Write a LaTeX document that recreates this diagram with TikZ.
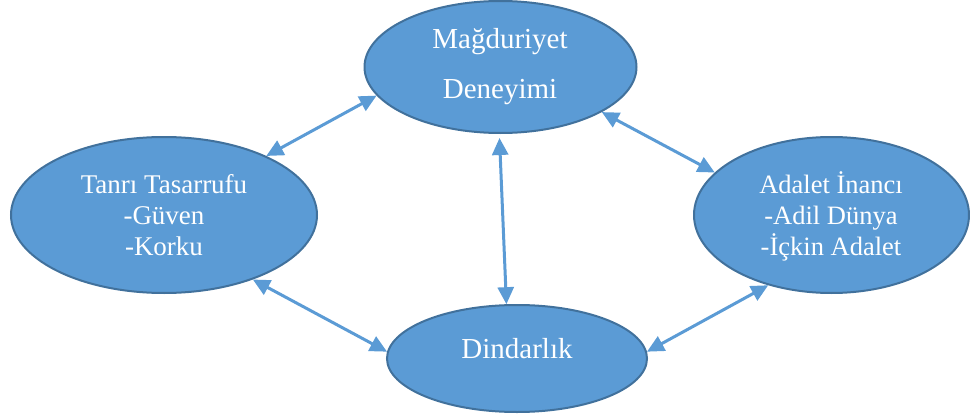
\documentclass[tikz,border=0pt]{standalone}
\usepackage{fontspec}
\setmainfont{Liberation Serif}
\usetikzlibrary{shapes.geometric,arrows.meta}
\definecolor{efill}{HTML}{5B9BD5}
\definecolor{edraw}{HTML}{41719C}
\definecolor{arr}{HTML}{5B9BD5}
\begin{document}
\begin{tikzpicture}[x=1pt,y=-1pt,
  ell/.style={ellipse,draw=edraw,fill=efill,line width=2pt,inner sep=0pt},
  txt/.style={text=white,align=center,inner sep=0pt,anchor=base},
  biarrow/.style={draw=arr,line width=3pt,{Triangle[length=17pt,width=16pt]}-{Triangle[length=17pt,width=16pt]}}]
\useasboundingbox (0,0) rectangle (970,420);
\node[ell,minimum width=272pt,minimum height=132pt] (T) at (500.5,67) {};
\node[ell,minimum width=306pt,minimum height=156pt] (L) at (164,215) {};
\node[ell,minimum width=275pt,minimum height=156pt] (R) at (831.5,215) {};
\node[ell,minimum width=260pt,minimum height=107pt] (B) at (517,358.5) {};
\node[txt,font=\fontsize{29}{51}\selectfont] (Tt) at (500,99) {Mağduriyet\\Deneyimi};
\node[txt,font=\fontsize{27}{31}\selectfont] (Lt) at (164,255) {Tanrı Tasarrufu\\-Güven\\-Korku};
\node[txt,font=\fontsize{26.5}{31}\selectfont] (Rt) at (831,255) {Adalet İnancı\\-Adil Dünya\\-İçkin Adalet};
\node[txt,font=\fontsize{29}{34}\selectfont] (Bt) at (517,358) {Dindarlık};
\draw[biarrow] (L.30) -- (T.193);
\draw[biarrow] (T.336) -- (R.160);
\draw[biarrow,shorten <=4pt] (T.269) -- (B.101.5);
\draw[biarrow] (L.324.7) -- (B.177.6);
\draw[biarrow] (R.228) -- (B.3.8);
\end{tikzpicture}
\end{document}
